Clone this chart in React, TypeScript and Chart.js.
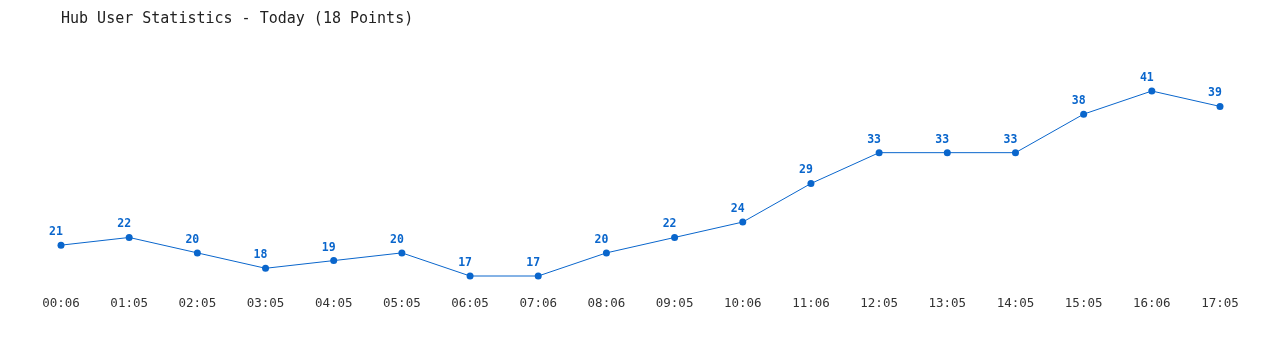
import React, { useEffect, useRef } from "react";
import { Chart, registerables } from "chart.js";

Chart.register(...registerables);

const TITLE = "Hub User Statistics - Today (18 Points)";
const timeLabels = ["00:06", "01:05", "02:05", "03:05", "04:05", "05:05", "06:05", "07:06", "08:06", "09:05", "10:06", "11:06", "12:05", "13:05", "14:05", "15:05", "16:06", "17:05"];
const userCounts = [21, 22, 20, 18, 19, 20, 17, 17, 20, 22, 24, 29, 33, 33, 33, 38, 41, 39];

const BLUE = "#0a66cc";
const MONO = "'DejaVu Sans Mono', 'Liberation Mono', monospace";

const valueLabelPlugin = {
  id: "valueLabels",
  afterDatasetsDraw(chart: any) {
    const ctx = chart.ctx;
    const meta = chart.getDatasetMeta(0);
    ctx.save();
    ctx.font = `bold 11.5px ${MONO}`;
    ctx.fillStyle = BLUE;
    ctx.textAlign = "center";
    ctx.textBaseline = "middle";
    meta.data.forEach((pt: any, i: number) => {
      ctx.fillText(String(userCounts[i]), pt.x - 5, pt.y - 13);
    });
    ctx.restore();
  },
};

export default function App() {
  const ref = useRef<HTMLCanvasElement | null>(null);
  useEffect(() => {
    if (!ref.current) return;
    const chart = new Chart(ref.current, {
      type: "line",
      data: {
        labels: timeLabels,
        datasets: [
          {
            data: userCounts,
            borderColor: BLUE,
            backgroundColor: BLUE,
            borderWidth: 1,
            pointRadius: 3.5,
            pointBackgroundColor: BLUE,
            pointBorderWidth: 0,
            tension: 0,
            fill: false,
            clip: false,
          },
        ],
      },
      options: {
        animation: false,
        responsive: false,
        layout: { padding: { left: 53, right: 52, top: 0, bottom: 19 } },
        plugins: {
          legend: { display: false },
          tooltip: { enabled: false },
          title: {
            display: true,
            text: TITLE,
            align: "start",
            color: "#222",
            font: { family: MONO, size: 15, weight: "normal" },
            padding: { top: 2, bottom: 63 },
          },
        },
        scales: {
          x: {
            grid: { display: false },
            border: { display: false },
            ticks: {
              color: "#333",
              font: { family: MONO, size: 12.5 },
              padding: 12,
              maxRotation: 0,
              autoSkip: false,
            },
          },
          y: {
            display: false,
            min: 17,
            max: 41,
          },
        },
      },
      plugins: [valueLabelPlugin],
    });
    return () => chart.destroy();
  }, []);
  return <canvas ref={ref} width={1264} height={334} style={{ display: "block" }} />;
}
